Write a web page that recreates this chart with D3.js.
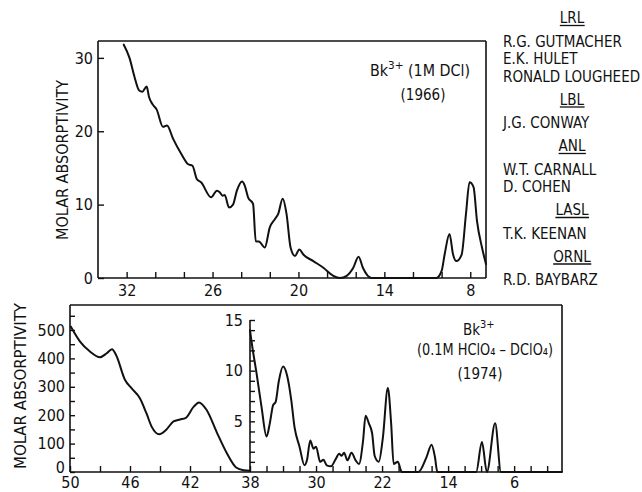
<!DOCTYPE html>
<html>
<head>
<meta charset="utf-8">
<script src="https://cdn.jsdelivr.net/npm/d3@7"></script>
<style>
  html, body { margin: 0; padding: 0; background: #fff; }
  svg { display: block; }
  text { font-family: "Liberation Sans Narrow", "DejaVu Sans Condensed", "Arial Narrow", sans-serif; fill: #111; }
</style>
</head>
<body>
<svg id="chart" width="642" height="492"></svg>
<script>
// Bk3+ in 1M DCl (1966): wavenumber (10^3 cm^-1) and molar absorptivity
const wave1966 = [32.2, 31.8, 31.45, 31.14, 30.9, 30.6, 30.44, 30.2, 29.9, 29.46, 29.18, 28.76, 28.18, 27.7, 27.4, 27.1, 26.8, 26.1, 25.7, 25.5, 25.3, 25.15, 24.85, 24.57, 24.3, 23.94, 23.75, 23.52, 23.17, 22.98, 22.75, 22.35, 22.0, 21.65, 21.42, 21.1, 20.83, 20.55, 20.24, 19.94, 19.66, 18.96, 18.26, 17.56, 17.1, 16.63, 16.17, 15.8, 15.5, 14.9, 10.37, 10.0, 9.79, 9.45, 9.2, 8.97, 8.6, 8.3, 8.05, 7.77, 7.53, 7.18, 6.9];
const abs1966 = [31.8, 30.0, 27.4, 25.6, 25.4, 26.1, 24.7, 23.7, 22.95, 20.6, 20.8, 19.0, 16.9, 15.5, 15.3, 13.5, 13.05, 11.0, 11.9, 11.7, 11.2, 11.3, 9.6, 10.0, 11.9, 13.15, 12.6, 11.0, 10.1, 5.0, 4.97, 4.15, 6.9, 8.0, 8.7, 10.8, 8.7, 4.15, 3.0, 3.9, 3.2, 2.3, 1.4, 0.3, 0, 0.3, 1.4, 2.9, 1.4, 0, 0, 0.96, 3.2, 6.0, 3.2, 2.3, 3.2, 8.7, 13.05, 12.4, 7.8, 4.15, 1.9];

// Bk3+ in 0.1M HClO4-DClO4 (1974), ultraviolet part (50 to 38)
const waveUV1974 = [49.95, 49.33, 48.67, 48.0, 47.55, 47.2, 46.93, 46.33, 45.9, 45.33, 44.9, 44.55, 44.05, 43.6, 43.1, 42.67, 42.3, 41.75, 41.4, 40.9, 40.2, 39.55, 38.9, 38.4, 38.0];
const absUV1974 = [512, 459, 424, 404, 418, 432, 412, 324, 295, 259, 206, 159, 133, 148, 178, 185, 190, 230, 245, 219, 138, 67, 15, 6, 4];

// Bk3+ 1974, visible / near-IR part (38 to 0)
const waveVis1974 = [38.0, 37.8, 37.2, 36.6, 36.0, 35.6, 35.2, 34.9, 34.5, 34.0, 33.5, 33.0, 32.6, 32.0, 31.4, 31.1, 30.7, 30.3, 30.0, 29.5, 29.1, 28.7, 28.2, 27.6, 27.2, 26.9, 26.6, 26.2, 25.7, 25.2, 24.8, 24.3, 24.0, 23.6, 23.2, 22.9, 22.4, 21.9, 21.3, 20.9, 20.6, 20.1, 19.6, 17.6, 16.6, 16.0, 15.6, 15.3, 10.6, 9.9, 9.3, 8.3, 7.6, 0.2];
const absVis1974 = [14.0, 12.8, 9.7, 6.4, 3.5, 4.8, 6.6, 6.9, 9.0, 10.4, 9.5, 7.1, 4.4, 2.5, 0.66, 1.15, 3.1, 2.3, 2.5, 1.0, 1.2, 0.66, 0.56, 1.3, 1.8, 1.6, 1.9, 1.15, 1.9, 1.15, 0.8, 3.1, 5.55, 4.8, 3.8, 1.6, 1.0, 3.4, 8.3, 4.8, 0.8, 1.0, 0, 0, 1.5, 2.7, 1.5, 0, 0, 2.95, 0, 4.8, 0, 0];

// Tick values
const topXTicks = [32, 30, 28, 26, 24, 22, 20, 18, 16, 14, 12, 10, 8];
const topXLabels = [32, 26, 20, 14, 8];
const topYTicks = [0, 10, 20, 30];
const uvXTicks = [50, 48, 46, 44, 42, 40, 38];
const uvXLabels = [50, 46, 42, 38];
const uvYTicks = [0, 50, 100, 150, 200, 250, 300, 350, 400, 450, 500, 550];
const uvYLabels = [0, 100, 200, 300, 400, 500];
const visXTicks = [36, 34, 32, 30, 28, 26, 24, 22, 20, 18, 16, 14, 12, 10, 8, 6, 4, 2];
const visXLabels = [30, 22, 14, 6];
const visYTicks = [1, 2, 3, 4, 5, 6, 7, 8, 9, 10, 11, 12, 13, 14, 15];
const visYLabels = [5, 10, 15];

// Laboratories and authors
const labs = [
  { lab: "LRL", names: ["R.G. GUTMACHER", "E.K. HULET", "RONALD LOUGHEED"] },
  { lab: "LBL", names: ["J.G. CONWAY"] },
  { lab: "ANL", names: ["W.T. CARNALL", "D. COHEN"] },
  { lab: "LASL", names: ["T.K. KEENAN"] },
  { lab: "ORNL", names: ["R.D. BAYBARZ"] }
];

const svg = d3.select("#chart");
const INK = "#111";
const FONT = '"Liberation Sans Narrow", "DejaVu Sans Condensed", sans-serif';

function zip(xs, ys) { return xs.map((x, i) => [x, ys[i]]); }

function styleAxis(g) {
  g.select(".domain").remove();
  g.selectAll(".tick line").attr("stroke", INK).attr("stroke-width", 1.4);
  g.selectAll(".tick text").attr("font-size", 16).attr("fill", INK).attr("font-family", FONT);
}

function frameLine(x1, y1, x2, y2) {
  svg.append("line").attr("x1", x1).attr("y1", y1).attr("x2", x2).attr("y2", y2)
    .attr("stroke", INK).attr("stroke-width", 1.6);
}

function drawCurve(data, xs, ys) {
  const line = d3.line().x(d => xs(d[0])).y(d => ys(d[1])).curve(d3.curveMonotoneX);
  svg.append("path").datum(data).attr("d", line)
    .attr("fill", "none").attr("stroke", INK).attr("stroke-width", 2)
    .attr("stroke-linejoin", "round").attr("stroke-linecap", "round");
}

function yTitle(cx, cy, len) {
  svg.append("text")
    .attr("transform", `translate(${cx},${cy}) rotate(-90)`)
    .attr("text-anchor", "middle").attr("dominant-baseline", "central")
    .attr("font-size", 16)
    .attr("textLength", len).attr("lengthAdjust", "spacingAndGlyphs")
    .text("MOLAR ABSORPTIVITY");
}

// ---------- Upper panel (1966) ----------
const xTop = d3.scaleLinear().domain([34, 6.9]).range([98, 486]);
const yTop = d3.scaleLinear().domain([0, 32.3]).range([278, 41]);

svg.append("g").attr("transform", `translate(0,${yTop(0)})`)
  .call(d3.axisBottom(xTop).tickValues(topXTicks).tickSize(-6).tickSizeOuter(0).tickPadding(7)
    .tickFormat(d => topXLabels.includes(d) ? d : ""))
  .call(styleAxis);
svg.append("g").attr("transform", `translate(${xTop.range()[0]},0)`)
  .call(d3.axisLeft(yTop).tickValues(topYTicks).tickSize(-6).tickSizeOuter(0).tickPadding(5))
  .call(styleAxis);

frameLine(98, 41, 486, 41);
frameLine(486, 41, 486, 278);
frameLine(98, 278, 486, 278);
frameLine(98, 41, 98, 278);

drawCurve(zip(wave1966, abs1966), xTop, yTop);
yTitle(62, 160, 160);

const ann1 = svg.append("text").attr("x", 370).attr("y", 76).attr("font-size", 15)
  .attr("textLength", 100).attr("lengthAdjust", "spacingAndGlyphs");
ann1.append("tspan").text("Bk");
ann1.append("tspan").attr("font-size", 11).attr("dy", -7).text("3+");
ann1.append("tspan").attr("dy", 7).text(" (1M DCl)");
svg.append("text").attr("x", 423).attr("y", 100).attr("font-size", 15)
  .attr("text-anchor", "middle").text("(1966)");

// ---------- Author list ----------
let yy = 23;
labs.forEach((g, gi) => {
  if (gi > 0) yy += 23;
  const t = svg.append("text").attr("x", 572).attr("y", yy).attr("font-size", 15)
    .attr("text-anchor", "middle").text(g.lab);
  const bb = t.node().getBBox();
  svg.append("line").attr("x1", bb.x).attr("x2", bb.x + bb.width)
    .attr("y1", yy + 2.5).attr("y2", yy + 2.5).attr("stroke", INK).attr("stroke-width", 1.3);
  g.names.forEach((n, i) => {
    yy += (i === 0 ? 23.5 : 17.5);
    svg.append("text").attr("x", 503).attr("y", yy).attr("font-size", 15).text(n);
  });
});

// ---------- Lower panel (1974) ----------
const xUV = d3.scaleLinear().domain([50, 38]).range([70, 250]);
const yUV = d3.scaleLinear().domain([0, 588]).range([472, 305]);
const xVis = d3.scaleLinear().domain([38, 0.2]).range([250, 562]);
const yVis = d3.scaleLinear().domain([0, 15]).range([472, 320]);

svg.append("g").attr("transform", `translate(0,472)`)
  .call(d3.axisBottom(xUV).tickValues(uvXTicks).tickSize(-6).tickSizeOuter(0).tickPadding(5)
    .tickFormat(d => uvXLabels.includes(d) ? d : ""))
  .call(styleAxis);
svg.append("g").attr("transform", `translate(0,472)`)
  .call(d3.axisBottom(xVis).tickValues(visXTicks).tickSize(-6).tickSizeOuter(0).tickPadding(5)
    .tickFormat(d => visXLabels.includes(d) ? d : ""))
  .call(styleAxis);
const uvY = svg.append("g").attr("transform", `translate(70,0)`)
  .call(d3.axisLeft(yUV).tickValues(uvYTicks).tickSize(-5).tickSizeOuter(0).tickPadding(5)
    .tickFormat(d => uvYLabels.includes(d) ? d : ""))
  .call(styleAxis);
// the zero label sits a little above the corner, clear of the "50" below it
uvY.selectAll(".tick text").filter(d => d === 0).attr("y", -5);
svg.append("g").attr("transform", `translate(250,0)`)
  .call(d3.axisLeft(yVis).tickValues(visYTicks).tickSize(-5).tickSizeOuter(0).tickPadding(7)
    .tickFormat(d => visYLabels.includes(d) ? d : ""))
  .call(styleAxis);

frameLine(70, 305, 562, 305);
frameLine(562, 305, 562, 472);
frameLine(70, 472, 562, 472);
frameLine(70, 305, 70, 472);
frameLine(250, yVis(15), 250, 472);

drawCurve(zip(waveUV1974, absUV1974), xUV, yUV);
drawCurve(zip(waveVis1974, absVis1974), xVis, yVis);
yTitle(20, 386, 166);

const ann2 = svg.append("text").attr("x", 463).attr("y", 335).attr("font-size", 15);
ann2.append("tspan").text("Bk");
ann2.append("tspan").attr("font-size", 11).attr("dy", -7).text("3+");
svg.append("text").attr("x", 417).attr("y", 355).attr("font-size", 15)
  .attr("textLength", 136).attr("lengthAdjust", "spacingAndGlyphs")
  .text("(0.1M HClO\u2084 \u2013 DClO\u2084)");
svg.append("text").attr("x", 480).attr("y", 379).attr("font-size", 15)
  .attr("text-anchor", "middle").text("(1974)");
</script>
</body>
</html>
